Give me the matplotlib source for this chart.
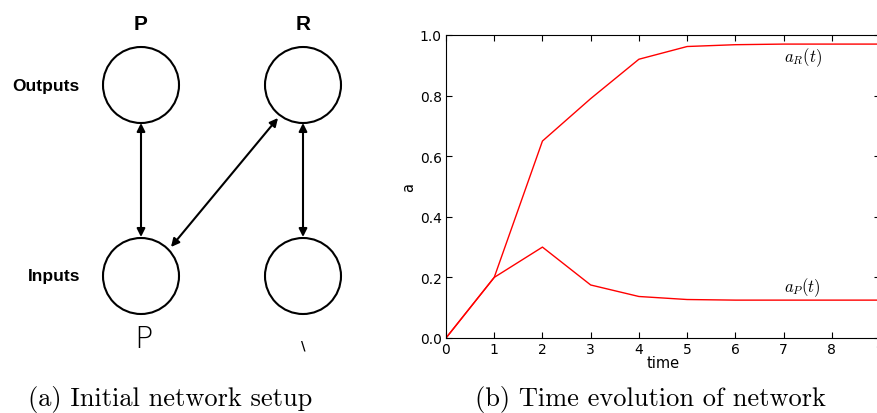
import matplotlib.pyplot as plt
from matplotlib.patches import Circle, FancyArrowPatch

plt.rcParams['mathtext.fontset'] = 'cm'

# time evolution values
time = [0, 1, 2, 3, 4, 5, 6, 7, 8, 9]
a_R = [0.0, 0.20, 0.65, 0.79, 0.92, 0.962, 0.968, 0.970, 0.970, 0.970]
a_P = [0.0, 0.20, 0.30, 0.175, 0.137, 0.127, 0.125, 0.125, 0.125, 0.125]
y_ticks = [0.0, 0.2, 0.4, 0.6, 0.8, 1.0]

# network diagram nodes (pixel layout of the left panel)
node_names = ['P', 'R']
row_names = ['Outputs', 'Inputs']

fig = plt.figure(figsize=(8.78, 4.14), dpi=100)

# ---- (a) network diagram, drawn in pixel units ----
axd = fig.add_axes([0, 0, 439 / 878, 1])
axd.set_xlim(0, 439)
axd.set_ylim(414, 0)
axd.axis('off')

cols = [141, 303]
rows = [86, 277]
r = 38
for cx in cols:
    for cy in rows:
        axd.add_patch(Circle((cx, cy), r, fill=False, lw=1.5, ec='black'))

for cx, name in zip(cols, node_names):
    axd.text(cx, 25, name, ha='center', va='center', fontsize=15,
             fontweight='bold', family='Liberation Sans')
for cy, name in zip(rows, row_names):
    axd.text(80, cy, name, ha='right', va='center', fontsize=12.5,
             fontweight='bold', family='Liberation Sans')

def arrow(p1, p2):
    axd.add_patch(FancyArrowPatch(p1, p2, arrowstyle='<|-|>', mutation_scale=12,
                                  lw=1.5, color='black', shrinkA=0, shrinkB=0))

arrow((cols[0], 124), (cols[0], 238))
arrow((cols[1], 124), (cols[1], 238))
arrow((171, 248), (278, 119))

# odd glyphs under the input nodes
axd.text(cols[0] + 2, 340, 'P', ha='center', va='center', fontsize=22,
         family='DejaVu Sans', fontweight='light', color='black')
axd.text(cols[1], 346, '\\', ha='center', va='center', fontsize=9,
         family='DejaVu Sans', fontweight='bold')

fig.text(170 / 878, 1 - 400 / 414, '(a) Initial network setup', ha='center',
         va='center', fontsize=19, family='cmr10')

# ---- (b) time evolution ----
ax = fig.add_axes([446 / 878, 75 / 414, 434 / 878, 303 / 414])
ax.plot(time, a_R, color='red', lw=1)
ax.plot(time, a_P, color='red', lw=1)
ax.set_xlim(0, 9)
ax.set_ylim(0, 1)
ax.set_xticks(time)
ax.set_yticks(y_ticks)
ax.set_yticklabels(['%.1f' % v for v in y_ticks])
ax.tick_params(direction='in', top=True, right=True, length=4, labelsize=10, pad=3)
ax.set_xlabel('time', fontsize=10.5, labelpad=-1)
ax.set_ylabel('a', fontsize=10.5, labelpad=3)
ax.text(7.0, 0.93, r'$a_R(t)$', fontsize=12, va='center', ha='left')
ax.text(7.0, 0.17, r'$a_P(t)$', fontsize=12, va='center', ha='left')

fig.text(650 / 878, 1 - 400 / 414, '(b) Time evolution of network', ha='center',
         va='center', fontsize=19, family='cmr10')

fig.savefig('out.png', dpi=100)
